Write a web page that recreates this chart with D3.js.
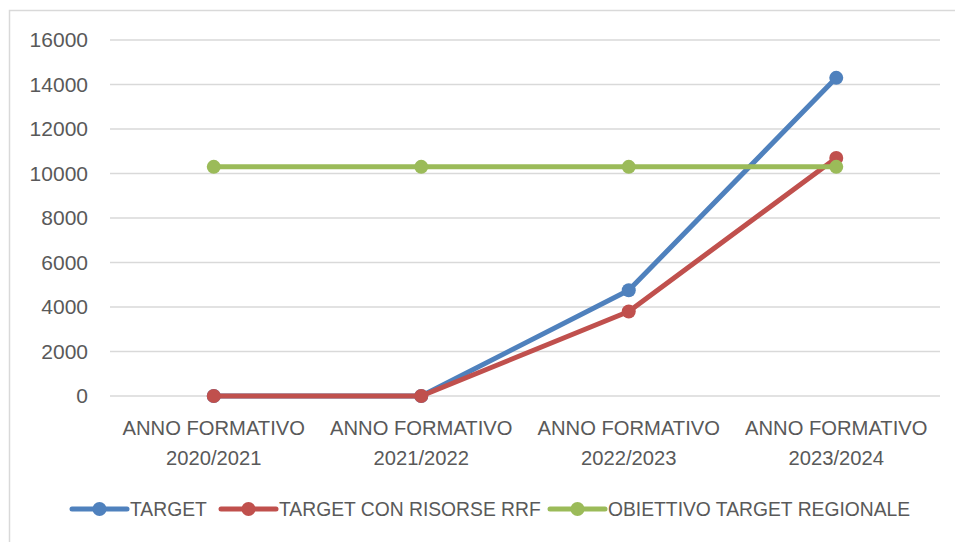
<!DOCTYPE html>
<html>
<head>
<meta charset="utf-8">
<script src="https://cdn.jsdelivr.net/npm/d3@7"></script>
<style>
  html, body { margin: 0; padding: 0; background: #fff; }
  svg text { font-family: "Liberation Sans", Arial, sans-serif; fill: #595959; }
</style>
</head>
<body>
<div id="chart"></div>
<script>
/* Line chart: target vs regional objective */

const categories = [
  ['ANNO FORMATIVO', '2020/2021'],
  ['ANNO FORMATIVO', '2021/2022'],
  ['ANNO FORMATIVO', '2022/2023'],
  ['ANNO FORMATIVO', '2023/2024']
];
const yTicks = [0, 2000, 4000, 6000, 8000, 10000, 12000, 14000, 16000];

const seriesNames = ['TARGET', 'TARGET CON RISORSE RRF', 'OBIETTIVO TARGET REGIONALE'];
const seriesColors = ['#4f81bd', '#c0504d', '#9bbb59'];
const target = [0, 0, 4750, 14300];
const targetRrf = [0, 0, 3800, 10700];
const obiettivo = [10300, 10300, 10300, 10300];

function renderChart() {
  const width = 955, height = 542;
  const margin = { top: 40, right: 15, bottom: 146, left: 110 };
  const inner = { width: width - margin.left - margin.right, height: height - margin.top - margin.bottom };

  const svg = d3.select('#chart').append('svg')
    .attr('width', width).attr('height', height);

  // outer chart border
  svg.append('rect')
    .attr('x', 9.5).attr('y', 10.5)
    .attr('width', 960).attr('height', 560)
    .attr('fill', 'none').attr('stroke', '#d9d9d9').attr('stroke-width', 1.5);

  const g = svg.append('g').attr('transform', `translate(${margin.left},${margin.top})`);

  const keys = categories.map((c, i) => i);
  const x = d3.scaleBand().domain(keys).range([0, inner.width]);
  const y = d3.scaleLinear().domain([0, 16000]).range([inner.height, 0]);

  // gridlines
  g.append('g').selectAll('line').data(yTicks).enter().append('line')
    .attr('x1', 0).attr('x2', inner.width)
    .attr('y1', d => y(d)).attr('y2', d => y(d))
    .attr('stroke', '#d9d9d9').attr('stroke-width', 1.5);

  // y axis labels
  const yAxis = g.append('g')
    .call(d3.axisLeft(y).tickValues(yTicks).tickSize(0).tickPadding(22).tickFormat(d3.format('d')));
  yAxis.select('.domain').remove();
  yAxis.selectAll('text').style('font-size', '21px').attr('fill', '#595959');

  // x axis labels (two lines)
  const xLab = g.append('g').attr('transform', `translate(0,${inner.height})`)
    .selectAll('text').data(categories).enter().append('text')
    .attr('x', (d, i) => x(i) + x.bandwidth() / 2)
    .attr('y', 39)
    .attr('text-anchor', 'middle')
    .style('font-size', '20.2px');
  xLab.append('tspan').attr('x', (d, i) => x(i) + x.bandwidth() / 2).text(d => d[0]);
  xLab.append('tspan').attr('x', (d, i) => x(i) + x.bandwidth() / 2).attr('dy', 30).text(d => d[1]);

  const series = [target, targetRrf, obiettivo];
  const line = d3.line().x((d, i) => x(i) + x.bandwidth() / 2).y(d => y(d));

  series.forEach((vals, s) => {
    g.append('path').datum(vals)
      .attr('d', line)
      .attr('fill', 'none')
      .attr('stroke', seriesColors[s])
      .attr('stroke-width', 5)
      .attr('stroke-linejoin', 'round');
    g.selectAll('.dot' + s).data(vals).enter().append('circle')
      .attr('cx', (d, i) => x(i) + x.bandwidth() / 2)
      .attr('cy', d => y(d))
      .attr('r', 7)
      .attr('fill', seriesColors[s]);
  });

  // legend
  const legendX = [72, 221, 550];
  const legend = svg.append('g').attr('transform', 'translate(0,509)');
  seriesNames.forEach((name, s) => {
    const lg = legend.append('g').attr('transform', `translate(${legendX[s]},0)`);
    lg.append('line').attr('x1', 0).attr('x2', 55).attr('y1', 0).attr('y2', 0)
      .attr('stroke', seriesColors[s]).attr('stroke-width', 5).attr('stroke-linecap', 'round');
    lg.append('circle').attr('cx', 27.5).attr('cy', 0).attr('r', 7).attr('fill', seriesColors[s]);
    lg.append('text').attr('x', 58).attr('y', 0).attr('dy', '0.35em')
      .style('font-size', '19.3px').text(name);
  });
}

renderChart();
</script>
</body>
</html>
